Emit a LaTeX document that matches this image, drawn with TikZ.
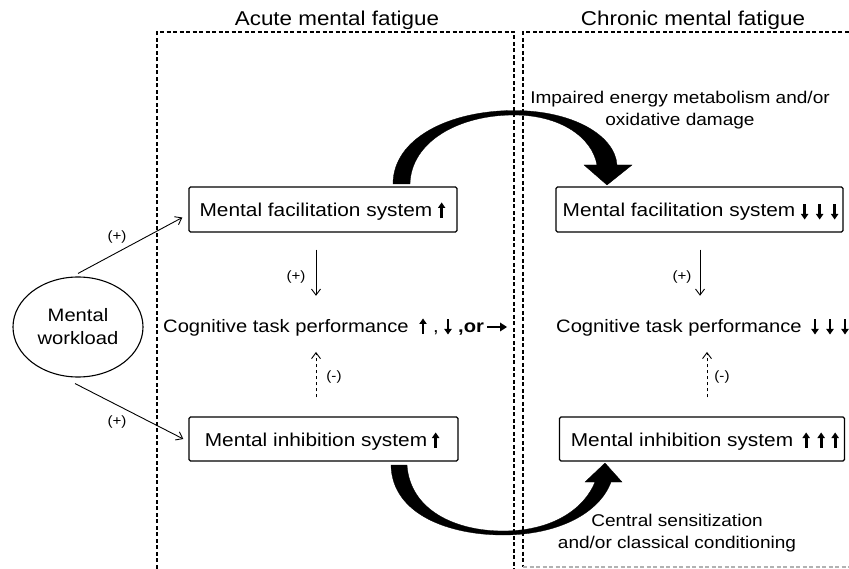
\documentclass[tikz,border=0pt]{standalone}
\usepackage{fontspec}
\setmainfont{Liberation Sans}[FakeStretch=1.12]
\usetikzlibrary{arrows.meta,shapes.geometric}
\newcommand{\gapbox}[1]{\rule{#1}{0pt}}
\begin{document}
\begin{tikzpicture}[x=1pt,y=-1pt,
  box/.style={draw, line width=1.3pt, rounded corners=1.5pt, inner sep=0pt, minimum height=45pt, text height=18pt, text depth=3pt, font=\fontsize{18.6}{20}\selectfont},
  txt/.style={font=\fontsize{18}{20}\selectfont, inner sep=0pt},
  lbl/.style={font=\fontsize{13.5}{15}\selectfont, inner sep=0pt},
  ttl/.style={font=\fontsize{20}{22}\selectfont, inner sep=0pt},
  note/.style={font=\fontsize{17}{22}\selectfont, align=center, inner sep=0pt},
  zone/.style={dash pattern=on 4pt off 2.5pt, line width=1.1pt},
  conn/.style={-{Straight Barb[length=6pt,width=9pt]}, line width=0.9pt},
  dconn/.style={conn, dash pattern=on 3.5pt off 2.5pt},
  bigarrow/.style={fill=black, draw=black, line width=0.3pt},
  uarr/.pic={\fill (-1.4,1) rectangle (1.4,-9.5); \fill (-3.8,-9) -- (3.8,-9) -- (0,-14.5) -- cycle;},
  darr/.pic={\fill (-1.4,-13.5) rectangle (1.4,-3.5); \fill (-3.8,-4) -- (3.8,-4) -- (0,1.5) -- cycle;},
  rarr/.pic={\fill (-10,-4.7) rectangle (4,-7.3); \fill (3,-1.5) -- (3,-10.5) -- (10,-6) -- cycle;}]
\useasboundingbox (0,0) rectangle (849,569);

% zones
\draw[zone] (157,575) -- (157,32) -- (514,32) -- (514,575);
\draw[zone] (855,32) -- (523,32) -- (523,567);
\draw[zone, gray!60] (523,567) -- (855,567);

% titles
\node[ttl, anchor=base] (t1) at (337,26) {Acute mental fatigue};
\node[ttl, anchor=base] (t2) at (693,26) {Chronic mental fatigue};

% nodes
\node[draw, ellipse, line width=1.1pt, minimum width=130pt, minimum height=100pt, inner sep=0pt, align=center, font=\fontsize{18}{23}\selectfont] (wl) at (78,327) {Mental\\workload};

\node[box, minimum width=268pt] (fac1) at (323,209.5) {Mental facilitation system\gapbox{14pt}};
\node[box, minimum width=287pt] (fac2) at (699.5,209.5) {Mental facilitation system\gapbox{41pt}};
\node[box, minimum width=269pt, minimum height=44pt] (inh1) at (323.5,439) {Mental inhibition system\gapbox{15pt}};
\node[box, minimum width=285pt, minimum height=44pt] (inh2) at (702,439) {Mental inhibition system\gapbox{40pt}};

% arrows inside the boxes
\pic at ([xshift=-16pt,yshift=-7.5pt]fac1.east) {uarr};
\pic at ([xshift=-39pt,yshift=-8.5pt]fac2.east) {darr};
\pic at ([xshift=-24pt,yshift=-8.5pt]fac2.east) {darr};
\pic at ([xshift=-9pt,yshift=-8.5pt]fac2.east) {darr};
\pic at ([xshift=-23pt,yshift=-8pt]inh1.east) {uarr};
\pic at ([xshift=-39pt,yshift=-8pt]inh2.east) {uarr};
\pic at ([xshift=-24pt,yshift=-8pt]inh2.east) {uarr};
\pic at ([xshift=-10pt,yshift=-8pt]inh2.east) {uarr};

% cognitive performance lines
\node[txt, anchor=base west] (cog1) at (163,333) {Cognitive task performance};
\node[txt, anchor=base] (c1a) at (436,333) {,};
\node[txt, anchor=base west] (c1b) at (458,333) {\textbf{,or}};
\pic at ([xshift=260pt]cog1.base west) {uarr};
\pic at ([xshift=285pt]cog1.base west) {darr};
\pic at ([xshift=334pt]cog1.base west) {rarr};
\node[txt, anchor=base west] (cog2) at (556,333) {Cognitive task performance};
\pic at ([xshift=259pt]cog2.base west) {darr};
\pic at ([xshift=274pt]cog2.base west) {darr};
\pic at ([xshift=289pt]cog2.base west) {darr};

\node[note] (n1) at (680,110) {Impaired energy metabolism and/or\\oxidative damage};
\node[note] (n2) at (677,533) {Central sensitization\\and/or classical conditioning};

% connectors from workload
\draw[conn] ([yshift=3pt]wl.north) -- ([xshift=-6pt,yshift=-8pt]fac1.west);
\draw[conn] ([xshift=-3pt,yshift=-6pt]wl.south) -- ([xshift=-5pt]inh1.west);
\node[lbl] (l1) at (117,237) {(+)};
\node[lbl] (l2) at (117,422) {(+)};

% vertical connectors
\coordinate (xa) at (316,0);
\coordinate (xb) at (700,0);
\coordinate (xc) at (707,0);
\draw[conn, shorten <=17pt, shorten >=24pt] (fac1.south -| xa) -- (cog1.north -| xa);
\draw[conn, shorten <=17pt, shorten >=24pt] (fac2.south -| xb) -- (cog2.north -| xb);
\draw[dconn, shorten <=19pt, shorten >=15pt] (inh1.north -| xa) -- (cog1.south -| xa);
\draw[dconn, shorten <=19pt, shorten >=15pt] (inh2.north -| xc) -- (cog2.south -| xc);
\node[lbl] (l3) at (296,277) {(+)};
\node[lbl] (l4) at (682,277) {(+)};
\node[lbl] (l5) at (334,377) {(-)};
\node[lbl] (l6) at (722,377) {(-)};

% big curved arrows
\path[bigarrow] (393,184) .. controls (393,138) and (450,110.5) .. (514,110.5)
  .. controls (572,110.5) and (615,135) .. (617,165)
  -- (632,165) -- (607,185) -- (584,165) -- (597,165)
  .. controls (592,137) and (560,115) .. (514,115)
  .. controls (458,115) and (411,142) .. (410,184) -- cycle;
\path[bigarrow] (391,465) .. controls (392,515) and (450,535) .. (503,535)
  .. controls (560,535) and (600,512) .. (611,482)
  -- (622,482) -- (605,463) -- (585,482) -- (595,482)
  .. controls (585,507) and (555,531) .. (503,531)
  .. controls (455,531) and (410,510) .. (407,465) -- cycle;
\end{tikzpicture}
\end{document}
